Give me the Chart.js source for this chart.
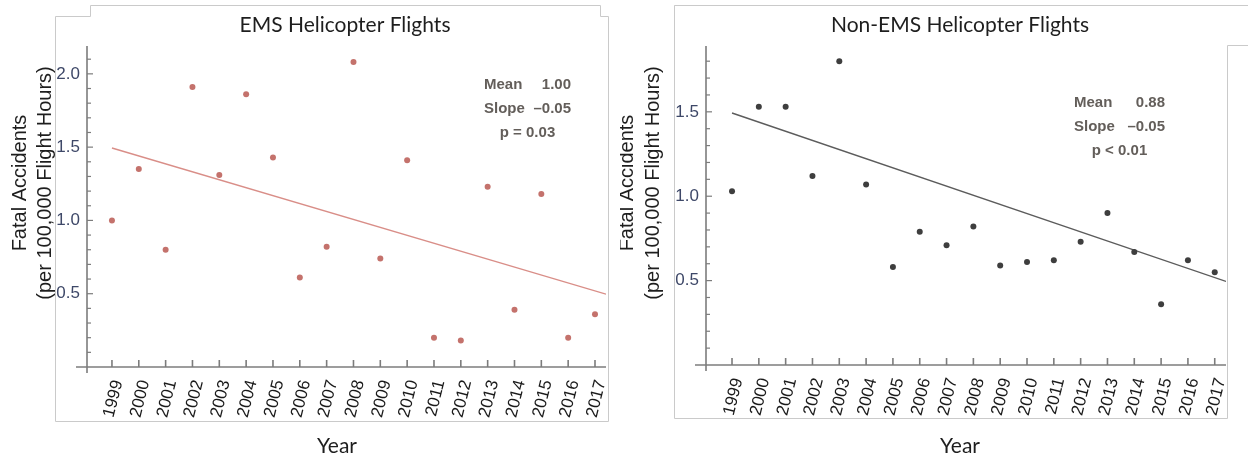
<!DOCTYPE html>
<html>
<head>
<meta charset="utf-8">
<script src="https://cdn.jsdelivr.net/npm/chart.js@4.4.1/dist/chart.umd.min.js"></script>
<style>
  body { margin: 0; background: #fff; width: 1248px; height: 458px; overflow: hidden; position: relative; }
  canvas { position: absolute; top: 0; }
  #graficaEms { left: 0; }
  #graficaNoEms { left: 620px; }
</style>
</head>
<body>
<canvas id="graficaEms" width="620" height="458"></canvas>
<canvas id="graficaNoEms" width="628" height="458"></canvas>
<script>
// Datos: accidentes fatales por 100.000 horas de vuelo
const anios = [1999, 2000, 2001, 2002, 2003, 2004, 2005, 2006, 2007, 2008,
               2009, 2010, 2011, 2012, 2013, 2014, 2015, 2016, 2017];
const emsValores = [1.00, 1.35, 0.80, 1.91, 1.31, 1.86, 1.43, 0.61, 0.82, 2.08,
                    0.74, 1.41, 0.20, 0.18, 1.23, 0.39, 1.18, 0.20, 0.36];
const noEmsValores = [1.03, 1.53, 1.53, 1.12, 1.80, 1.07, 0.58, 0.79, 0.71, 0.82,
                      0.59, 0.61, 0.62, 0.73, 0.90, 0.67, 0.36, 0.62, 0.55];

// Recta de tendencia (extremos)
const tendenciaEmsX = [1999, 2017.41];
const tendenciaEmsY = [1.494, 0.497];
const tendenciaNoEmsX = [1999, 2017.42];
const tendenciaNoEmsY = [1.493, 0.495];

const ticksEmsY = [0.5, 1.0, 1.5, 2.0];
const ticksNoEmsY = [0.5, 1.0, 1.5];

const statsEms = [['Mean', '1.00'], ['Slope', '\u20130.05'], ['p = 0.03']];
const statsNoEms = [['Mean', '0.88'], ['Slope', '\u20130.05'], ['p < 0.01']];

function linea(ctx, x1, y1, x2, y2) {
    ctx.beginPath();
    ctx.moveTo(x1, y1);
    ctx.lineTo(x2, y2);
    ctx.stroke();
}

// Marco gris de cada figura
const marco = {
    id: 'marco',
    beforeDraw(chart, args, opts) {
        const ctx = chart.ctx;
        ctx.save();
        ctx.strokeStyle = '#cacaca';
        ctx.lineWidth = 1;
        ctx.beginPath();
        opts.puntos.forEach((p, i) => i == 0 ? ctx.moveTo(p[0] + 0.5, p[1] + 0.5) : ctx.lineTo(p[0] + 0.5, p[1] + 0.5));
        ctx.stroke();
        ctx.restore();
    }
};

// Ejes al estilo Mathematica: marcas hacia dentro y marcas menores
const ejes = {
    id: 'ejes',
    afterDraw(chart) {
        const ctx = chart.ctx;
        const x = chart.scales.x, y = chart.scales.y;
        const x0 = x.left, y0 = y.getPixelForValue(0);
        ctx.save();
        ctx.strokeStyle = '#7c7c7c';
        ctx.lineWidth = 1.6;
        linea(ctx, x0, y.top, x0, y0 + 6);
        linea(ctx, x0 - 11, y0, x.right, y0);
        anios.forEach(a => {
            const px = x.getPixelForValue(a);
            linea(ctx, px, y0, px, y0 - 7);
        });
        ctx.lineWidth = 1.2;
        for (let i = 1; i / 10 <= y.max; i++) {
            const py = y.getPixelForValue(i / 10);
            linea(ctx, x0, py, x0 + (i % 5 == 0 ? 6 : 4), py);
        }
        ctx.restore();
    }
};

// Textos: titulo, ejes y estadisticas
const textos = {
    id: 'textos',
    afterDraw(chart, args, opts) {
        const ctx = chart.ctx;
        ctx.save();
        ctx.fillStyle = '#1e1e1e';
        ctx.textAlign = 'center';
        ctx.textBaseline = 'alphabetic';
        ctx.font = '21px Lato';
        ctx.fillText(opts.titulo, opts.tituloX, 32);
        ctx.fillText('Year', opts.yearX, 453);

        ctx.font = '20px "Liberation Sans"';
        ctx.textBaseline = 'middle';
        ['Fatal Accidents', '(per 100,000 Flight Hours)'].forEach((t, i) => {
            ctx.save();
            ctx.translate(opts.ejeYX[i], 183);
            ctx.rotate(-Math.PI / 2);
            ctx.fillText(t, 0, 0);
            ctx.restore();
        });

        ctx.font = 'bold 15px "Liberation Sans"';
        ctx.fillStyle = '#635e5a';
        opts.stats.forEach((fila, i) => {
            const yy = opts.statsY + i * 24;
            if (fila.length == 2) {
                ctx.textAlign = 'left';
                ctx.fillText(fila[0], opts.statsIzq, yy);
                ctx.textAlign = 'right';
                ctx.fillText(fila[1], opts.statsDer, yy);
            } else {
                ctx.textAlign = 'center';
                ctx.fillText(fila[0], (opts.statsIzq + opts.statsDer) / 2, yy);
            }
        });
        ctx.restore();
    }
};

function dibujarGrafica(id, valores, tendX, tendY, ticksY, cfg) {
    const ctx = document.getElementById(id).getContext('2d');
    return new Chart(ctx, {
        type: 'scatter',
        data: {
            datasets: [{
                data: anios.map((a, i) => ({x: a, y: valores[i]})),
                backgroundColor: cfg.colorPunto,
                borderColor: cfg.colorPunto,
                pointRadius: 3,
                pointHoverRadius: 3,
                borderWidth: 0
            }, {
                type: 'line',
                data: tendX.map((a, i) => ({x: a, y: tendY[i]})),
                borderColor: cfg.colorLinea,
                borderWidth: 1.4,
                pointRadius: 0,
                fill: false
            }]
        },
        options: {
            responsive: false,
            animation: false,
            events: [],
            layout: {padding: {left: 0, top: 46, right: cfg.derecha, bottom: 0}},
            plugins: {
                legend: {display: false},
                tooltip: {enabled: false},
                marco: {puntos: cfg.marco},
                textos: cfg.textos
            },
            scales: {
                x: {
                    type: 'linear',
                    min: cfg.xMin,
                    max: cfg.xMax,
                    grid: {display: false, drawTicks: false},
                    border: {display: false},
                    afterBuildTicks: s => { s.ticks = anios.map(v => ({value: v})); },
                    afterFit: s => {
                        // sin relleno extra por las etiquetas giradas
                        s.height = cfg.altoX;
                        s.paddingLeft = 0;
                        s.paddingRight = 0;
                    },
                    ticks: {
                        autoSkip: false,
                        minRotation: 76,
                        maxRotation: 76,
                        padding: 11,
                        labelOffset: 6,
                        color: '#1a1a1a',
                        font: {family: 'Liberation Sans', size: 17},
                        callback: v => String(v)
                    }
                },
                y: {
                    min: 0,
                    max: cfg.yMax,
                    grid: {display: false, drawTicks: false},
                    border: {display: false},
                    afterBuildTicks: s => { s.ticks = ticksY.map(v => ({value: v})); },
                    afterFit: s => {
                        s.width = cfg.anchoY;
                        s.paddingTop = 0;
                        s.paddingBottom = 0;
                    },
                    ticks: {
                        padding: 7,
                        color: '#3e4868',
                        font: {family: 'Liberation Sans', size: 17},
                        callback: v => v.toFixed(1)
                    }
                }
            }
        },
        plugins: [marco, ejes, textos]
    });
}

dibujarGrafica('graficaEms', emsValores, tendenciaEmsX, tendenciaEmsY, ticksEmsY, {
    colorPunto: '#c4726c',
    colorLinea: '#d98e88',
    derecha: 14,
    anchoY: 87,
    altoX: 91,
    xMin: 1998.07,
    xMax: 2017.41,
    yMax: 2.19,
    marco: [[55, 16], [90, 16], [90, 5], [600, 5], [600, 16], [608, 16], [608, 421], [55, 421], [55, 16]],
    textos: {
        titulo: 'EMS Helicopter Flights', tituloX: 345, yearX: 337,
        ejeYX: [20, 45], stats: statsEms, statsY: 85, statsIzq: 484, statsDer: 571
    }
});

dibujarGrafica('graficaNoEms', noEmsValores, tendenciaNoEmsX, tendenciaNoEmsY, ticksNoEmsY, {
    colorPunto: '#3e3e3e',
    colorLinea: '#5c5c5c',
    derecha: 22,
    anchoY: 86,
    altoX: 93,
    xMin: 1998.03,
    xMax: 2017.42,
    yMax: 1.89,
    marco: [[54, 5], [628, 5], [628, 5], [607, 5], [54, 5], [54, 418], [607, 418], [607, 45], [628, 45]],
    textos: {
        titulo: 'Non-EMS Helicopter Flights', tituloX: 340, yearX: 340,
        ejeYX: [7, 33], stats: statsNoEms, statsY: 103, statsIzq: 454, statsDer: 545
    }
});
</script>
</body>
</html>
